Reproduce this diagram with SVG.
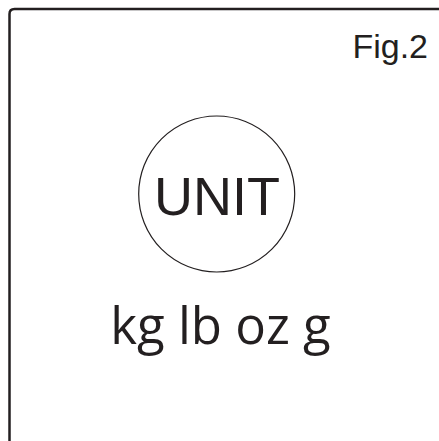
<svg xmlns="http://www.w3.org/2000/svg" width="439" height="441" viewBox="0 0 439 441">
<style>
.frame{fill:none;stroke:#231f20;stroke-width:2.5}
.ring{fill:none;stroke:#231f20;stroke-width:1.2}
.t{fill:#231f20}
</style>
<rect width="439" height="441" fill="#fff"/>
<g id="frame"><path class="frame" d="M9.5,445 V14 Q9.5,9 14.5,9 H445"/></g>
<g id="fig-label"><text class="t" x="428" y="58" text-anchor="end" font-family="Liberation Sans, Arial, sans-serif" font-size="34">Fig.2</text></g>
<g id="unit-node">
<circle class="ring" cx="216.7" cy="194" r="78"/>
<text class="t" x="217" y="215" text-anchor="middle" font-family="Liberation Sans, Arial, sans-serif" font-size="54">UNIT</text>
</g>
<g id="units"><text class="t" x="220.5" y="344" text-anchor="middle" font-family="Open Sans, sans-serif" font-size="51">kg lb oz g</text></g>
<g id="connectors"/>
</svg>
